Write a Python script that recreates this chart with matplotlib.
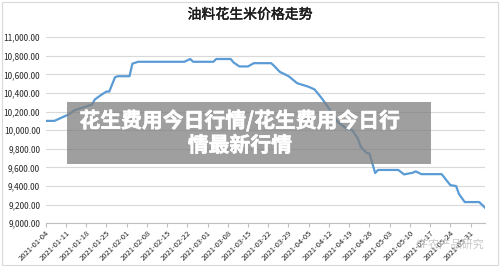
import numpy as np
import pandas as pd
import matplotlib
matplotlib.use("Agg")
import matplotlib.pyplot as plt
import matplotlib.dates as mdates
import matplotlib.patheffects as pe
from matplotlib.ticker import FuncFormatter
from matplotlib.patches import Rectangle

plt.rcParams['font.family'] = ['Noto Sans CJK SC', 'DejaVu Sans']

# price readings
dates = ['2021-01-04', '2021-01-07', '2021-01-12', '2021-01-14', '2021-01-20',
         '2021-01-21', '2021-01-23', '2021-01-25', '2021-01-26', '2021-01-28',
         '2021-01-29', '2021-02-02', '2021-02-03', '2021-02-05', '2021-02-21',
         '2021-02-23', '2021-02-24', '2021-03-03', '2021-03-04', '2021-03-09',
         '2021-03-10', '2021-03-12', '2021-03-15', '2021-03-17', '2021-03-23',
         '2021-03-24', '2021-03-26', '2021-03-29', '2021-03-30', '2021-04-01',
         '2021-04-05', '2021-04-07', '2021-04-08', '2021-04-10', '2021-04-12',
         '2021-04-15', '2021-04-18', '2021-04-20', '2021-04-22', '2021-04-23',
         '2021-04-25', '2021-04-26', '2021-04-28', '2021-04-29', '2021-05-06',
         '2021-05-08', '2021-05-11', '2021-05-12', '2021-05-14', '2021-05-21',
         '2021-05-24', '2021-05-26', '2021-05-27', '2021-05-29', '2021-06-03',
         '2021-06-05']
prices = [10100, 10100, 10170, 10215, 10275,
          10330, 10375, 10415, 10415, 10570,
          10580, 10580, 10715, 10735, 10735,
          10765, 10735, 10735, 10765, 10765,
          10728, 10685, 10685, 10720, 10720,
          10692, 10627, 10581, 10556, 10505,
          10466, 10438, 10402, 10323, 10234,
          10090, 10019, 10002, 9912, 9822,
          9757, 9750, 9540, 9573, 9573,
          9525, 9543, 9558, 9528, 9528,
          9410, 9400, 9314, 9228, 9228,
          9168]

tick_dates = pd.date_range('2021-01-04', '2021-05-31', freq='7D')
title = '油料花生米价格走势'
banner = '花生费用今日行情/花生费用今日行\n情最新行情'

x = pd.to_datetime(dates)

fig = plt.figure(figsize=(5, 2.67), dpi=100)
ax = fig.add_axes([0.0914, 0.1637, 0.8786, 0.6973])

ax.plot(x, prices, color='#5b9bd5', lw=1.6, zorder=3)

ax.set_ylim(9000, 11000)
ax.set_yticks(np.arange(9000, 11001, 200))
ax.yaxis.set_major_formatter(FuncFormatter(lambda v, p: f'{v:,.2f}'))
ax.set_xlim(pd.Timestamp('2021-01-04'), pd.Timestamp('2021-06-05'))
ax.set_xticks(tick_dates)
ax.xaxis.set_major_formatter(mdates.DateFormatter('%Y-%m-%d'))

ax.grid(axis='y', color='#d9d9d9', lw=0.8, zorder=0)
for s in ['top', 'right', 'left']:
    ax.spines[s].set_visible(False)
ax.spines['bottom'].set_color('#bfbfbf')
ax.spines['bottom'].set_linewidth(0.8)
ax.tick_params(axis='y', length=0, labelsize=6, pad=4, labelcolor='#262626')
ax.tick_params(axis='x', length=3, color='#bfbfbf', labelsize=5.5, pad=1, labelcolor='#262626')
for lab in ax.get_xticklabels():
    lab.set_rotation(45)
    lab.set_ha('right')
    lab.set_rotation_mode('anchor')

fig.text(0.5, 0.945, title, ha='center', va='center', fontsize=10, fontweight='medium',
         color='#1a1a1a', path_effects=[pe.withStroke(linewidth=0.3, foreground='#1a1a1a')])

# light chart border
fig.patches.append(Rectangle((0.004, 0.007), 0.992, 0.986, transform=fig.transFigure,
                             fill=False, edgecolor='#d9d9d9', lw=0.8))

# watermark
fig.text(0.83, 0.085, 'CF农产品研究', ha='left', va='center', fontsize=8, color='#c8c8c8')

# grey banner overlay
fig.patches.append(Rectangle((0.134, 0.386), 0.728, 0.232, transform=fig.transFigure,
                             facecolor='#7f7f7f', alpha=0.75, edgecolor='none', zorder=10))
fig.text(0.48, 0.502, banner, ha='center', va='center', fontsize=15, fontweight='heavy',
         color='white', linespacing=1.2, zorder=11,
         path_effects=[pe.withStroke(linewidth=0.4, foreground='white')])

fig.savefig('out.png', dpi=100)
